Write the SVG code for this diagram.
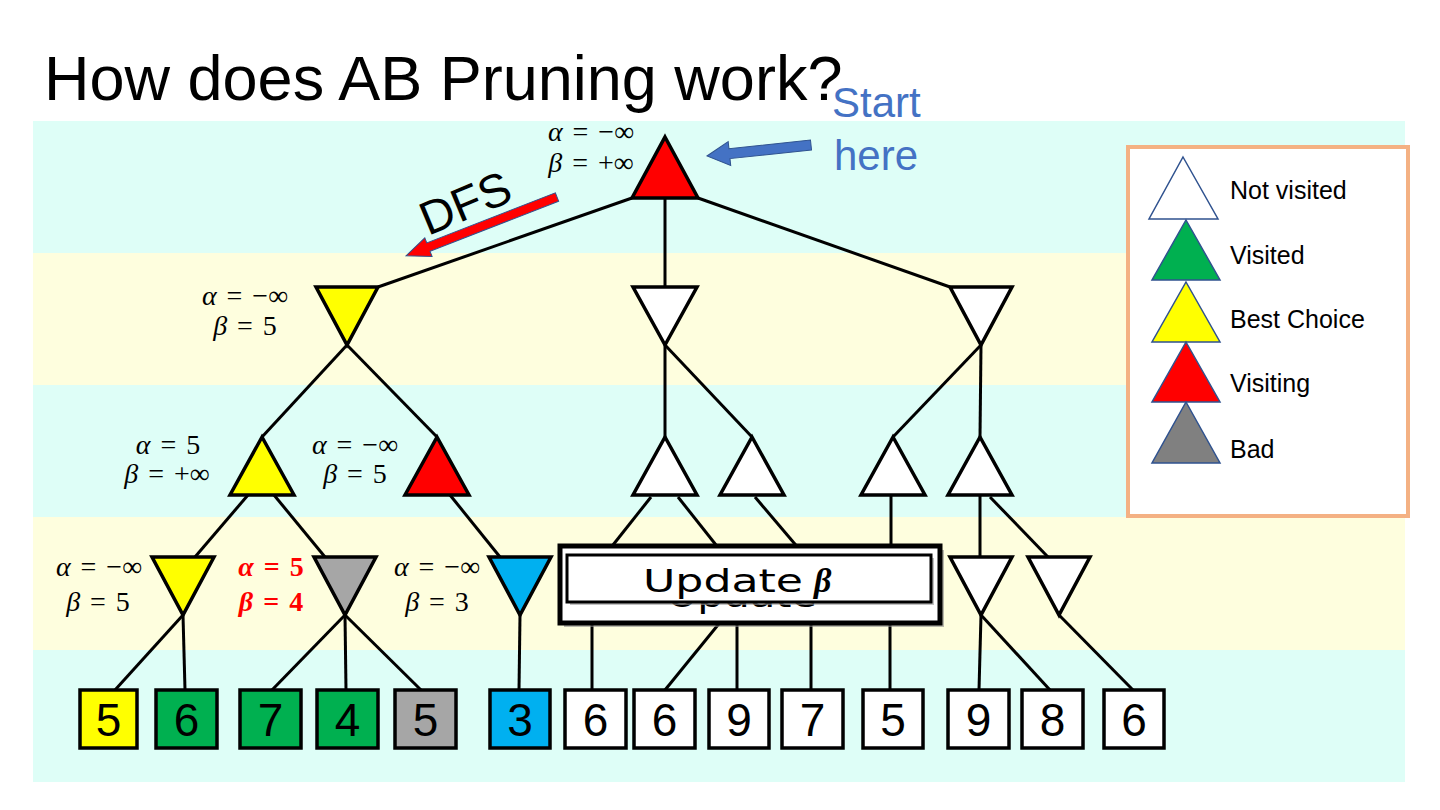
<svg xmlns="http://www.w3.org/2000/svg" width="1440" height="810" viewBox="0 0 1440 810">
<style>
.bc{fill:#DEFEF7}
.by{fill:#FEFEDE}
.e{stroke:#000;stroke-width:3;fill:none}
.t{stroke:#000;stroke-width:3.5;stroke-linejoin:miter}
.w{fill:#fff}.y{fill:#FFFF00}.r{fill:#FF0000}.g{fill:#00B050}.gr{fill:#A6A6A6}.b{fill:#00B0F0}
.lf{stroke:#000;stroke-width:3.5}
.num{font-family:"Liberation Sans",Arial,sans-serif;font-size:46px;text-anchor:middle;fill:#000}
.ab{font-family:"Liberation Serif","Times New Roman",serif;font-size:28px;text-anchor:middle;fill:#000;word-spacing:3px}
.abr{font-family:"Liberation Serif","Times New Roman",serif;font-size:28px;text-anchor:middle;fill:#FF0000;font-weight:bold;word-spacing:3px}
.i{font-style:italic}
.lg{stroke:#2F528F;stroke-width:1.5}
.lgt{font-family:"Liberation Sans",Arial,sans-serif;font-size:25px;fill:#000}
</style>
<rect width="1440" height="810" fill="#fff"/>
<g id="bands">
<rect class="bc" x="33" y="121" width="1372" height="132"/>
<rect class="by" x="33" y="253" width="1372" height="132"/>
<rect class="bc" x="33" y="385" width="1372" height="132"/>
<rect class="by" x="33" y="517" width="1372" height="133"/>
<rect class="bc" x="33" y="650" width="1372" height="132"/>
</g>
<text id="title" x="44" y="100" font-family="Liberation Sans, Arial, sans-serif" font-size="63" fill="#000">How does AB Pruning work?</text>
<g id="start-label" font-family="Liberation Sans, Arial, sans-serif" font-size="42" fill="#4472C4">
<text x="832" y="117">Start</text>
<text x="834" y="170">here</text>
</g>
<g id="connectors">
<line class="e" x1="632" y1="198" x2="378" y2="287"/>
<line class="e" x1="665" y1="198" x2="665" y2="287"/>
<line class="e" x1="698" y1="198" x2="950" y2="287"/>
<line class="e" x1="347" y1="345" x2="262" y2="437"/>
<line class="e" x1="347" y1="345" x2="437" y2="437"/>
<line class="e" x1="665" y1="345" x2="665" y2="437"/>
<line class="e" x1="665" y1="345" x2="752" y2="437"/>
<line class="e" x1="981" y1="345" x2="893" y2="437"/>
<line class="e" x1="981" y1="345" x2="980" y2="437"/>
<line class="e" x1="248" y1="495" x2="195" y2="557"/>
<line class="e" x1="274" y1="495" x2="325" y2="557"/>
<line class="e" x1="450" y1="495" x2="500" y2="557"/>
<line class="e" x1="651" y1="497" x2="609" y2="550"/>
<line class="e" x1="678" y1="497" x2="720" y2="550"/>
<line class="e" x1="755" y1="497" x2="800" y2="550"/>
<line class="e" x1="891" y1="495" x2="891" y2="550"/>
<line class="e" x1="980" y1="495" x2="980" y2="557"/>
<line class="e" x1="990" y1="497" x2="1048" y2="557"/>
<line class="e" x1="183" y1="615" x2="115" y2="690"/>
<line class="e" x1="183" y1="615" x2="185" y2="690"/>
<line class="e" x1="345" y1="615" x2="272" y2="690"/>
<line class="e" x1="345" y1="615" x2="346" y2="690"/>
<line class="e" x1="345" y1="615" x2="421" y2="690"/>
<line class="e" x1="520" y1="615" x2="519" y2="690"/>
<line class="e" x1="592" y1="620" x2="592" y2="690"/>
<line class="e" x1="722" y1="620" x2="665" y2="690"/>
<line class="e" x1="737" y1="620" x2="737" y2="690"/>
<line class="e" x1="811" y1="620" x2="811" y2="690"/>
<line class="e" x1="890" y1="620" x2="890" y2="690"/>
<line class="e" x1="981" y1="615" x2="979" y2="690"/>
<line class="e" x1="981" y1="615" x2="1050" y2="690"/>
<line class="e" x1="1059" y1="615" x2="1133" y2="690"/>
</g>
<g id="root"><polygon class="t r" points="665,137 698,198 632,198"/></g>
<g id="n1a"><polygon class="t y" points="316,287 378,287 347,345"/></g>
<g id="n1b"><polygon class="t w" points="633,287 697,287 665,345"/></g>
<g id="n1c"><polygon class="t w" points="950,287 1012,287 981,345"/></g>
<g id="n2a"><polygon class="t y" points="262,437 294,495 230,495"/></g>
<g id="n2b"><polygon class="t r" points="437,437 469,495 405,495"/></g>
<g id="n2c"><polygon class="t w" points="665,437 697,495 633,495"/></g>
<g id="n2d"><polygon class="t w" points="752,437 784,495 720,495"/></g>
<g id="n2e"><polygon class="t w" points="893,437 925,495 861,495"/></g>
<g id="n2f"><polygon class="t w" points="980,437 1012,495 948,495"/></g>
<g id="n3a"><polygon class="t y" points="152,557 214,557 183,615"/></g>
<g id="n3b"><polygon class="t gr" points="314,557 376,557 345,615"/></g>
<g id="n3c"><polygon class="t b" points="489,557 551,557 520,615"/></g>
<g id="n3d"><polygon class="t w" points="950,557 1012,557 981,615"/></g>
<g id="n3e"><polygon class="t w" points="1028,557 1090,557 1059,615"/></g>
<g id="leaves">
<g id="l1"><rect class="lf y" x="80" y="690" width="57" height="58"/><text class="num" x="108.5" y="736">5</text></g>
<g id="l2"><rect class="lf g" x="156" y="690" width="61" height="58"/><text class="num" x="186.5" y="736">6</text></g>
<g id="l3"><rect class="lf g" x="240" y="690" width="61" height="58"/><text class="num" x="270.5" y="736">7</text></g>
<g id="l4"><rect class="lf g" x="317" y="690" width="61" height="58"/><text class="num" x="347.5" y="736">4</text></g>
<g id="l5"><rect class="lf gr" x="395" y="690" width="61" height="58"/><text class="num" x="425.5" y="736">5</text></g>
<g id="l6"><rect class="lf b" x="490" y="690" width="60" height="58"/><text class="num" x="520" y="736">3</text></g>
<g id="l7"><rect class="lf w" x="565" y="690" width="61" height="58"/><text class="num" x="595.5" y="736">6</text></g>
<g id="l8"><rect class="lf w" x="634" y="690" width="61" height="58"/><text class="num" x="664.5" y="736">6</text></g>
<g id="l9"><rect class="lf w" x="709" y="690" width="60" height="58"/><text class="num" x="739" y="736">9</text></g>
<g id="l10"><rect class="lf w" x="782" y="690" width="61" height="58"/><text class="num" x="812.5" y="736">7</text></g>
<g id="l11"><rect class="lf w" x="863" y="690" width="60" height="58"/><text class="num" x="893" y="736">5</text></g>
<g id="l12"><rect class="lf w" x="948" y="690" width="61" height="58"/><text class="num" x="978.5" y="736">9</text></g>
<g id="l13"><rect class="lf w" x="1022" y="690" width="61" height="58"/><text class="num" x="1052.5" y="736">8</text></g>
<g id="l14"><rect class="lf w" x="1104" y="690" width="60" height="58"/><text class="num" x="1134" y="736">6</text></g>
</g>
<g id="labels">
<text class="ab" x="591" y="141"><tspan class="i">α</tspan> = −∞</text><text class="ab" x="591" y="172"><tspan class="i">β</tspan> = +∞</text>
<text class="ab" x="245" y="305"><tspan class="i">α</tspan> = −∞</text><text class="ab" x="245" y="335"><tspan class="i">β</tspan> = 5</text>
<text class="ab" x="168" y="454"><tspan class="i">α</tspan> = 5</text><text class="ab" x="167" y="483"><tspan class="i">β</tspan> = +∞</text>
<text class="ab" x="355" y="454"><tspan class="i">α</tspan> = −∞</text><text class="ab" x="355" y="483"><tspan class="i">β</tspan> = 5</text>
<text class="ab" x="99" y="576"><tspan class="i">α</tspan> = −∞</text><text class="ab" x="98" y="611"><tspan class="i">β</tspan> = 5</text>
<text class="abr" x="271" y="576"><tspan class="i">α</tspan> = 5</text><text class="abr" x="271" y="611"><tspan class="i">β</tspan> = 4</text>
<text class="ab" x="437" y="576"><tspan class="i">α</tspan> = −∞</text><text class="ab" x="437" y="611"><tspan class="i">β</tspan> = 3</text>
</g>
<g id="update-box">
<rect x="564" y="550" width="380" height="77" fill="#8a8a8a" opacity="0.6"/>
<rect x="560" y="546" width="380" height="77" fill="#fff" stroke="#000" stroke-width="5"/>
<text x="667" y="607" font-family="DejaVu Sans, Verdana, sans-serif" font-size="34" textLength="150" lengthAdjust="spacingAndGlyphs" fill="#000">Update</text>
<rect x="570" y="558" width="364" height="47" fill="#999" opacity="0.6"/>
<rect x="567" y="555" width="364" height="47" fill="#fff" stroke="#000" stroke-width="3"/>
<text x="643" y="592" font-family="DejaVu Sans, Verdana, sans-serif" font-size="32" fill="#000" textLength="160" lengthAdjust="spacingAndGlyphs">Update</text>
<text x="814" y="592" font-family="Liberation Serif, serif" font-size="34" font-style="italic" font-weight="bold" fill="#000">β</text>
</g>
<g id="legend">
<rect x="1128" y="147" width="280" height="369" fill="#fff" stroke="#F4B183" stroke-width="4"/>
<polygon class="lg w" points="1183,157 1218,219 1149,219"/>
<polygon class="lg g" points="1186,220 1220,280 1152,280"/>
<polygon class="lg y" points="1186,282 1220,342 1152,342"/>
<polygon class="lg r" points="1186,342 1220,402 1152,402"/>
<polygon class="lg" fill="#808080" points="1186,402 1220,463 1152,463"/>
<text class="lgt" x="1230" y="199">Not visited</text>
<text class="lgt" x="1230" y="264">Visited</text>
<text class="lgt" x="1230" y="328">Best Choice</text>
<text class="lgt" x="1230" y="392">Visiting</text>
<text class="lgt" x="1230" y="458">Bad</text>
</g>
<g id="arrows">
<path transform="translate(811,145) rotate(173.96)" d="M0,-5 L82,-5 L82,-12 L104.6,0 L82,12 L82,5 L0,5 Z" fill="#4472C4" stroke="#2F528F" stroke-width="1"/>
<path transform="translate(557,197) rotate(158.7)" d="M0,-4.5 L138,-4.5 L138,-10 L162,0 L138,10 L138,4.5 L0,4.5 Z" fill="#FF0000" stroke="#2F528F" stroke-width="1"/>
<text x="428" y="236" transform="rotate(-22.5 428 236)" font-family="Liberation Sans, Arial, sans-serif" font-size="47" fill="#000">DFS</text>
</g>
</svg>
